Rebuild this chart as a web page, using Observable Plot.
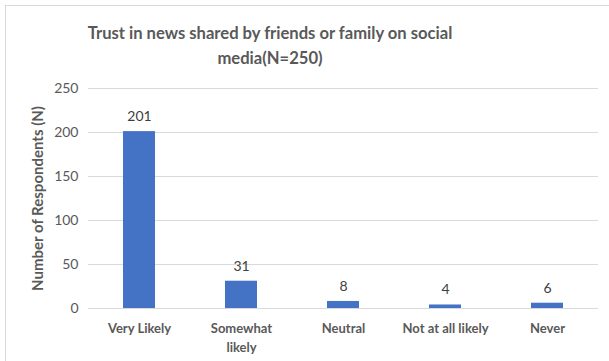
<!DOCTYPE html>
<html>
<head>
<meta charset="utf-8">
<script src="https://cdn.jsdelivr.net/npm/d3@7"></script>
<script src="https://cdn.jsdelivr.net/npm/@observablehq/plot@0.6"></script>
<style>
  html, body { margin: 0; padding: 0; background: #fff; }
  body { width: 609px; height: 361px; overflow: hidden; position: relative; font-family: Lato, "Open Sans", sans-serif; }
  #frame { position: absolute; left: 5px; top: 5px; width: 640px; height: 400px; border: 1px solid #d9d9d9; box-sizing: border-box; }
  #title { position: absolute; left: 50px; top: 21px; width: 440px; text-align: center; font-weight: bold; font-size: 16.6px; line-height: 25px; color: #595959; }
  #chart { position: absolute; left: 0; top: 75px; }
</style>
</head>
<body>
<div id="frame"></div>
<div id="title">Trust in news shared by friends or family on social media(N=250)</div>
<div id="chart"></div>
<script>
const categories = ["Very Likely", "Somewhat likely", "Neutral", "Not at all likely", "Never"];
const values = [201, 31, 8, 4, 6];
const tickLabels = ["Very Likely", "Somewhat\nlikely", "Neutral", "Not at all likely", "Never"];
const yTicks = [0, 50, 100, 150, 200, 250];
const yTitle = "Number of Respondents (N)";

const data = categories.map((c, i) => ({category: c, value: values[i]}));

const chart = Plot.plot({
  width: 609,
  height: 286,
  marginTop: 13,
  marginBottom: 53,
  marginLeft: 88,
  marginRight: 11,
  style: {fontFamily: "Lato, 'Open Sans', sans-serif", fontSize: "13px", color: "#595959", background: "transparent"},
  x: {domain: categories, paddingInner: 0.686, paddingOuter: 0.343},
  y: {domain: [0, 250]},
  marks: [
    Plot.gridY(yTicks, {stroke: "#d9d9d9", strokeOpacity: 1}),
    Plot.barY(data, {x: "category", y: "value", fill: "#4472c4"}),
    Plot.text(data, {x: "category", y: "value", text: d => String(d.value), dy: -15, fill: "#404040", fontSize: 14}),
    Plot.axisY(yTicks, {tickSize: 0, tickPadding: 10, fill: "#595959", fontSize: 14, label: yTitle, labelAnchor: "center", labelArrow: "none", labelOffset: 56}),
    Plot.axisX({tickSize: 0, tickPadding: 11, fontWeight: "bold", fill: "#595959", fontSize: 13, lineHeight: 1.45, tickFormat: (d, i) => tickLabels[categories.indexOf(d)], label: null})
  ]
});
document.getElementById("chart").appendChild(chart);
chart.querySelectorAll("g[aria-label='y-axis label'] text").forEach(t => { t.setAttribute("font-weight", "bold"); t.setAttribute("font-size", "15"); });
</script>
</body>
</html>
